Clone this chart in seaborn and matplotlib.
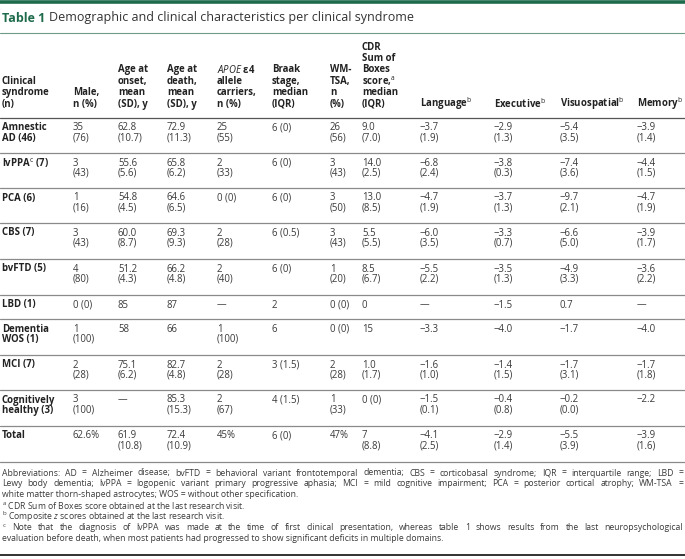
import seaborn as sns
import matplotlib.pyplot as plt

sns.set_theme(style="white")
plt.rcParams['font.family'] = ['Open Sans', 'DejaVu Sans']
plt.rcParams['mathtext.fontset'] = 'custom'
plt.rcParams['mathtext.rm'] = 'Open Sans'
plt.rcParams['mathtext.it'] = 'Open Sans:italic'
plt.rcParams['mathtext.bf'] = 'Open Sans:bold'

# table content
title_num = "Table 1"
title_text = "Demographic and clinical characteristics per clinical syndrome"

headers = [
    "Clinical\nsyndrome\n(n)",
    "Male,\nn (%)",
    "Age at\nonset,\nmean\n(SD), y",
    "Age at\ndeath,\nmean\n(SD), y",
    "$\\it{APOE}$ ε4\nallele\ncarriers,\nn (%)",
    "Braak\nstage,\nmedian\n(IQR)",
    "WM-\nTSA,\nn\n(%)",
    "CDR\nSum of\nBoxes\nscore,$^{\\mathrm{a}}$\nmedian\n(IQR)",
    "Language$^{\\mathrm{b}}$",
    "Executive$^{\\mathrm{b}}$",
    "Visuospatial$^{\\mathrm{b}}$",
    "Memory$^{\\mathrm{b}}$",
]

syndromes = ["Amnestic\nAD (46)", "lvPPA$^{\\mathrm{c}}$ (7)", "PCA (6)", "CBS (7)", "bvFTD (5)",
             "LBD (1)", "Dementia\nWOS (1)", "MCI (7)", "Cognitively\nhealthy (3)", "Total"]
male = ["35\n(76)", "3\n(43)", "1\n(16)", "3\n(43)", "4\n(80)", "0 (0)", "1\n(100)",
        "2\n(28)", "3\n(100)", "62.6%"]
onset = ["62.8\n(10.7)", "55.6\n(5.6)", "54.8\n(4.5)", "60.0\n(8.7)", "51.2\n(4.3)", "85",
         "58", "75.1\n(6.2)", "—", "61.9\n(10.8)"]
death = ["72.9\n(11.3)", "65.8\n(6.2)", "64.6\n(6.5)", "69.3\n(9.3)", "66.2\n(4.8)", "87",
         "66", "82.7\n(4.8)", "85.3\n(15.3)", "72.4\n(10.9)"]
apoe = ["25\n(55)", "2\n(33)", "0 (0)", "2\n(28)", "2\n(40)", "—", "1\n(100)", "2\n(28)",
        "2\n(67)", "45%"]
braak = ["6 (0)", "6 (0)", "6 (0)", "6 (0.5)", "6 (0)", "2", "6", "3 (1.5)", "4 (1.5)", "6 (0)"]
wmtsa = ["26\n(56)", "3\n(43)", "3\n(50)", "3\n(43)", "1\n(20)", "0 (0)", "0 (0)", "2\n(28)",
         "1\n(33)", "47%"]
cdr = ["9.0\n(7.0)", "14.0\n(2.5)", "13.0\n(8.5)", "5.5\n(5.5)", "8.5\n(6.7)", "0", "15",
       "1.0\n(1.7)", "0 (0)", "7\n(8.8)"]
language = ["−3.7\n(1.9)", "−6.8\n(2.4)", "−4.7\n(1.9)", "−6.0\n(3.5)", "−5.5\n(2.2)", "—",
            "−3.3", "−1.6\n(1.0)", "−1.5\n(0.1)", "−4.1\n(2.5)"]
executive = ["−2.9\n(1.3)", "−3.8\n(0.3)", "−3.7\n(1.3)", "−3.3\n(0.7)", "−3.5\n(1.3)", "−1.5",
             "−4.0", "−1.4\n(1.5)", "−0.4\n(0.8)", "−2.9\n(1.4)"]
visuospatial = ["−5.4\n(3.5)", "−7.4\n(3.6)", "−9.7\n(2.1)", "−6.6\n(5.0)", "−4.9\n(3.3)", "0.7",
                "−1.7", "−1.7\n(3.1)", "−0.2\n(0.0)", "−5.5\n(3.9)"]
memory = ["−3.9\n(1.4)", "−4.4\n(1.5)", "−4.7\n(1.9)", "−3.9\n(1.7)", "−3.6\n(2.2)", "—",
          "−4.0", "−1.7\n(1.8)", "−2.2", "−3.9\n(1.6)"]

footnotes_justified = [
    "Abbreviations: AD = Alzheimer disease; bvFTD = behavioral variant frontotemporal dementia; CBS = corticobasal syndrome; IQR = interquartile range; LBD =",
    "Lewy body dementia; lvPPA = logopenic variant primary progressive aphasia; MCI = mild cognitive impairment; PCA = posterior cortical atrophy; WM-TSA =",
]
footnotes_plain = [
    "white matter thorn-shaped astrocytes; WOS = without other specification.",
    "$^{\\mathrm{a}}$ CDR Sum of Boxes score obtained at the last research visit.",
    "$^{\\mathrm{b}}$ Composite $\\it{z}$ scores obtained at the last research visit.",
]
footnote_c = [
    "$^{\\mathrm{c}}$ Note that the diagnosis of lvPPA was made at the time of first clinical presentation, whereas table 1 shows results from the last neuropsychological",
    "evaluation before death, when most patients had progressed to show significant deficits in multiple domains.",
]

columns = [syndromes, male, onset, death, apoe, braak, wmtsa, cdr,
           language, executive, visuospatial, memory]

# layout (pixels)
col_x = [2, 73, 118, 167, 217, 272, 330, 362, 420, 494, 560, 637]
row_lines = [153, 188, 223, 259, 295, 319, 355, 390, 426, 462]
header_line = 118
lh = 10.4
hlh = 11.4
fs = 6.9
ffs = 6.2
green = "#1e6b4c"
txt = "#3a3a3a"

fig = plt.figure(figsize=(6.85, 5.59), dpi=100)
ax = fig.add_axes([0, 0, 1, 1])
ax.set_xlim(0, 685)
ax.set_ylim(559, 0)
ax.axis("off")


def lines_at(x, y_top, s, bold=False, color=txt, size=fs, bottom=False, step=lh):
    parts = s.split("\n")
    if bottom:
        y_top = y_top - (len(parts) - 1) * step
    for i, p in enumerate(parts):
        ax.text(x, y_top + i * step, p, fontsize=size, color=color,
                fontweight="bold" if bold else "normal", va="center", ha="left")


# top bar and title
ax.axhline(1.5, color=green, lw=2.6)
t1 = ax.text(2, 18, title_num, fontsize=9, color=green, fontweight="bold", va="center")
fig.canvas.draw()
r = fig.canvas.get_renderer()
bb = t1.get_window_extent(r)
ax.text(bb.x1 + 4, 18, title_text, fontsize=9, color="#333333", va="center")
ax.plot([0, 685], [33, 33], color="#6e9c86", lw=0.8)

# header
for x, h in zip(col_x, headers):
    lines_at(x, 104, h, bold=True, color="#222222", bottom=True, step=hlh)
ax.plot([0, 685], [header_line, header_line], color="#555555", lw=0.9)

# body rows
tops = [header_line] + row_lines[:-1]
for ci, col in enumerate(columns):
    for ri, val in enumerate(col):
        lines_at(col_x[ci], tops[ri] + 10, val, bold=(ci == 0),
                 color="#222222" if ci == 0 else txt)
for y in row_lines:
    ax.plot([0, 685], [y, y], color="#8a8a8a", lw=0.9)


# footnotes
def justified(y, s, x0=2, x1=683):
    words = s.split(" ")
    objs = [ax.text(0, y, w, fontsize=ffs, color=txt, va="center") for w in words]
    fig.canvas.draw()
    widths = [o.get_window_extent(r).width for o in objs]
    gap = (x1 - x0 - sum(widths)) / (len(words) - 1)
    x = x0
    for o, w in zip(objs, widths):
        o.set_x(x)
        x += w + gap


fy = 473
flh = 10.9
justified(fy, footnotes_justified[0])
justified(fy + flh, footnotes_justified[1])
for i, s in enumerate(footnotes_plain):
    ax.text(2, fy + (2 + i) * flh, s, fontsize=ffs, color=txt, va="center")
justified(fy + 5 * flh, footnote_c[0])
ax.text(2, fy + 6 * flh, footnote_c[1], fontsize=ffs, color=txt, va="center")
ax.plot([0, 685], [555, 555], color="#222222", lw=1.3)

fig.savefig("out.png", dpi=100)
